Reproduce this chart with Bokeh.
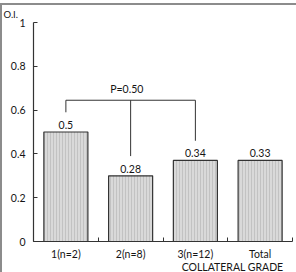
from bokeh.plotting import figure
from bokeh.models import Range1d, FixedTicker, Label, ColumnDataSource
from bokeh.core.properties import value
from bokeh.embed import file_html
from bokeh.resources import INLINE

# ---- data ----
categories = ["1(n=2)", "2(n=8)", "3(n=12)", "Total"]
bar_heights = [0.50, 0.30, 0.37, 0.37]
value_labels = ["0.5", "0.28", "0.34", "0.33"]
y_ticks = [0, 0.2, 0.4, 0.6, 0.8, 1]
y_tick_labels = ["0", "0.2", "0.4", "0.6", "0.8", "1"]
bracket_groups = [0, 1, 2]
p_value_text = "P=0.50"
y_axis_title = "O.I."
x_axis_title = "COLLATERAL GRADE"

FONT = "Lato"
TXT = "#151515"
LINE = "#333333"
FS = "10.5px"

W, H = 296, 272
# pixel placement of the axes inside the canvas
AX_L, AX_R, AX_B, AX_T = 33, 292, 241, 22
n = len(categories)
y_max = max(y_ticks)
xpp = n / (AX_R - AX_L)
ypp = y_max / (AX_B - AX_T)

centers = [i + 0.5 for i in range(n)]

p = figure(width=W, height=H, output_backend="svg", toolbar_location=None,
           x_range=Range1d(-AX_L * xpp, n + (W - AX_R) * xpp),
           y_range=Range1d(-(H - AX_B) * ypp, y_max + AX_T * ypp),
           min_border=0)
p.border_fill_color = None
p.background_fill_color = None
p.outline_line_color = None
p.grid.visible = False
p.styles = {"box-shadow": "inset 0 3px 0 0 #ffffff, inset 0 5px 0 0 #8c8c8c, inset 2px 0 0 0 #8c8c8c"}

src = ColumnDataSource(dict(x=centers, top=bar_heights, lab=value_labels))
p.vbar(x="x", top="top", width=0.68, source=src, fill_color="#d9d9d9",
       hatch_pattern="|", hatch_color="#c2c2c2", hatch_scale=3, hatch_weight=1,
       line_color=LINE, line_width=1.2)
p.text(x="x", y="top", text="lab", source=src, y_offset=-7, text_align="center",
       text_baseline="alphabetic", text_font=value(FONT), text_font_size=FS, text_color=TXT)

# significance bracket
bracket_y = 0.645
gap = 0.09
bx = [centers[i] for i in bracket_groups]
xs = [[bx[0], bx[-1]]] + [[x, x] for x in bx]
ys = [[bracket_y, bracket_y]] + [[bracket_y, bar_heights[i] + gap] for i in bracket_groups]
p.multi_line(xs=xs, ys=ys, line_color=LINE, line_width=1)
p.add_layout(Label(x=bx[len(bx) // 2] - 0.06, y=bracket_y, y_offset=11, text=p_value_text,
                   text_align="center", text_baseline="alphabetic", text_font=FONT,
                   text_font_size=FS, text_color=TXT))

# axes
xa = p.xaxis[0]
xa.fixed_location = 0
xa.bounds = (0, n)
xa.ticker = FixedTicker(ticks=centers, minor_ticks=list(range(n + 1)))
xa.major_label_overrides = {c: lab for c, lab in zip(centers, categories)}
xa.major_tick_in = 0
xa.major_tick_out = 0
xa.minor_tick_in = 4
xa.minor_tick_out = 0
xa.minor_tick_line_color = LINE
xa.axis_line_color = LINE
xa.axis_line_width = 1.2
xa.major_label_standoff = 6
xa.major_label_text_font = FONT
xa.major_label_text_font_size = FS
xa.major_label_text_color = TXT

ya = p.yaxis[0]
ya.fixed_location = 0
ya.bounds = (0, y_max)
ya.ticker = FixedTicker(ticks=y_ticks, minor_ticks=[])
ya.major_label_overrides = {t: lab for t, lab in zip(y_ticks, y_tick_labels)}
ya.major_tick_in = 4
ya.major_tick_out = 0
ya.major_tick_line_color = LINE
ya.axis_line_color = LINE
ya.axis_line_width = 1.2
ya.major_label_standoff = 8
ya.major_label_text_font = FONT
ya.major_label_text_font_size = FS
ya.major_label_text_color = TXT

p.add_layout(Label(x=0, y=y_max, x_offset=-30, y_offset=8, text=y_axis_title, text_align="left",
                   text_baseline="alphabetic", text_font=FONT, text_font_size="9.5px",
                   text_color=TXT))
p.add_layout(Label(x=n, y=0, x_offset=-9, y_offset=-25, text=x_axis_title, text_align="right",
                   text_baseline="alphabetic", text_font=FONT, text_font_size=FS,
                   text_color=TXT))

open("out.html", "w").write(file_html(p, INLINE))
